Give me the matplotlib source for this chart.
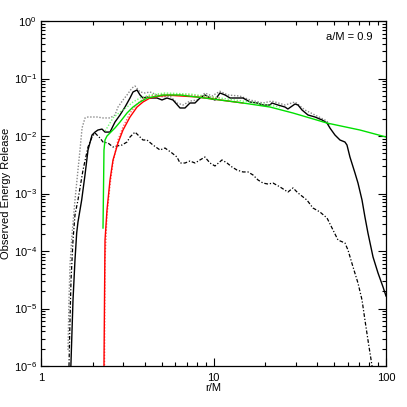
import matplotlib
matplotlib.use("Agg")
import matplotlib.pyplot as plt
from matplotlib.ticker import FixedLocator, FixedFormatter, LogLocator, NullFormatter

plt.rcParams['font.family'] = ['Liberation Sans', 'DejaVu Sans']
plt.rcParams['mathtext.fontset'] = 'custom'
plt.rcParams['mathtext.rm'] = 'Liberation Sans'

# ---- data ----
# simulation, solid black
sim_r = [1.49, 1.533, 1.574, 1.61, 1.638, 1.721, 1.799, 1.873, 1.976, 2.056, 2.138, 2.258, 2.35,
         2.512, 2.685, 2.871, 3.069, 3.281, 3.415, 3.603, 3.75, 3.90, 4.117, 4.285, 4.704, 5.028,
         5.375, 5.823, 6.394, 6.835, 7.305, 7.81, 8.35, 8.92, 9.54, 10.2, 10.9, 11.66, 12.47, 13.68,
         14.82, 16.28, 17.87, 19.36, 21.27, 21.8, 23.66, 25.97, 27.0, 29.69, 30.9, 32.6, 35.3, 38.76,
         42.6, 45.5, 47.3, 50.6, 54.1, 57.8, 59.4, 61.8, 66.1, 68.8, 72.6, 75.5, 78.6, 84.1, 89.9,
         96.1, 100.0]
sim_y = [1e-6, 1.41e-5, 6.97e-5, 2.05e-4, 3.19e-4, 7.7e-4, 2.10e-3, 5.71e-3, 1.04e-2, 1.17e-2,
         1.27e-2, 1.32e-2, 1.17e-2, 1.17e-2, 1.75e-2, 2.32e-2, 3.19e-2, 4.58e-2, 5.83e-2, 6.31e-2,
         5.17e-2, 4.58e-2, 4.77e-2, 4.58e-2, 4.58e-2, 4.23e-2, 4.58e-2, 4.23e-2, 3.07e-2, 3.07e-2,
         3.75e-2, 3.75e-2, 4.58e-2, 5.17e-2, 4.58e-2, 4.23e-2, 5.6e-2, 5.17e-2, 4.58e-2, 4.58e-2,
         4.58e-2, 3.9e-2, 3.75e-2, 3.46e-2, 3.46e-2, 3.75e-2, 3.46e-2, 3.19e-2, 2.95e-2, 3.6e-2,
         3.46e-2, 2.83e-2, 2.32e-2, 2.14e-2, 1.90e-2, 1.68e-2, 1.38e-2, 1.04e-2, 8.52e-3, 7.86e-3,
         6.97e-3, 4.31e-3, 2.27e-3, 1.52e-3, 7.7e-4, 3.9e-4, 2.05e-4, 7.87e-5, 4.14e-5, 2.37e-5,
         1.65e-5]

# gray dotted
dot_r = [1.434, 1.453, 1.473, 1.512, 1.574, 1.638, 1.683, 1.73, 1.799, 1.873, 2.112, 2.288, 2.512,
         2.685, 2.795, 2.988, 3.152, 3.37, 3.508, 3.75, 4.008, 4.285, 4.704, 5.094, 5.594, 6.14,
         6.66, 7.305, 8.02, 8.92, 9.8, 10.9, 12.1, 14.2, 16.28, 19.36, 21.8, 25.97, 29.69, 33.9,
         38.76, 45.5, 47.3]
dot_y = [1.9e-6, 1.41e-5, 5.71e-5, 1.9e-4, 7.7e-4, 2.56e-3, 5.71e-3, 1.38e-2, 2.06e-2, 2.14e-2,
         2.14e-2, 2.06e-2, 2.06e-2, 2.32e-2, 3.19e-2, 4.23e-2, 5.17e-2, 6.84e-2, 7.4e-2, 5.83e-2,
         5.6e-2, 5.83e-2, 5.17e-2, 4.77e-2, 4.96e-2, 3.75e-2, 3.46e-2, 4.05e-2, 4.23e-2, 5.6e-2,
         4.96e-2, 6.0e-2, 5.17e-2, 4.96e-2, 4.23e-2, 3.75e-2, 4.05e-2, 3.46e-2, 3.9e-2, 2.83e-2,
         2.32e-2, 1.82e-2, 1.45e-2]

# dash-dot black
dd_r = [1.453, 1.473, 1.493, 1.533, 1.574, 1.638, 1.752, 1.873, 1.976, 2.056, 2.112, 2.198, 2.288,
        2.446, 2.615, 2.758, 2.949, 3.152, 3.281, 3.508, 3.651, 3.90, 4.117, 4.458, 4.897, 5.233,
        5.746, 6.14, 6.394, 6.835, 7.305, 7.81, 8.35, 8.92, 9.54, 10.2, 11.2, 11.98, 12.8, 13.68,
        14.82, 15.85, 16.94, 18.11, 19.36, 20.7, 22.13, 24.3, 27.0, 28.9, 30.9, 34.8, 37.7, 41.4,
        45.5, 49.3, 52.7, 57.8, 60.2, 64.4, 68.8, 72.6, 75.5, 78.6, 83.0]
dd_y = [1e-6, 6.3e-6, 3.13e-5, 1.55e-4, 4.23e-4, 7.7e-4, 2.56e-3, 6.44e-3, 9.61e-3, 1.13e-2,
        1.04e-2, 9.23e-3, 7.86e-3, 7.55e-3, 6.44e-3, 6.70e-3, 6.97e-3, 7.86e-3, 9.61e-3, 1.17e-2,
        1.04e-2, 8.52e-3, 8.52e-3, 6.97e-3, 5.71e-3, 6.18e-3, 5.06e-3, 4.31e-3, 3.39e-3, 3.39e-3,
        3.67e-3, 3.39e-3, 3.83e-3, 4.31e-3, 3.39e-3, 3.01e-3, 3.83e-3, 3.39e-3, 2.89e-3, 2.56e-3,
        2.37e-3, 2.37e-3, 2.10e-3, 1.72e-3, 1.52e-3, 1.46e-3, 1.52e-3, 1.30e-3, 1.06e-3, 1.25e-3,
        1.02e-3, 7.7e-4, 5.6e-4, 4.77e-4, 3.75e-4, 2.32e-4, 1.55e-4, 1.38e-4, 1.04e-4, 5.27e-5,
        2.77e-5, 1.41e-5, 6.3e-6, 2.83e-6, 1e-6]

# red solid
red_r = [2.318, 2.318, 2.334, 2.35, 2.413, 2.512, 2.615, 2.795, 2.988, 3.281, 3.603, 3.90, 4.285,
         4.897, 5.6, 8.02, 10.9, 14.82]
red_y = [1e-8, 1e-6, 1.41e-5, 1.55e-4, 5.17e-4, 1.72e-3, 3.83e-3, 7.55e-3, 1.27e-2, 2.14e-2,
         3.19e-2, 3.9e-2, 4.58e-2, 4.96e-2, 5.1e-2, 4.77e-2, 4.23e-2, 3.75e-2]

# red dotted
redd_r = [2.334, 2.334, 2.35, 2.413, 2.512, 2.615, 2.795, 2.988, 3.281, 3.603, 3.90, 4.285, 5.233,
          7.305, 10.9]
redd_y = [1e-8, 1e-6, 6.97e-5, 4.23e-4, 1.40e-3, 3.5e-3, 8.52e-3, 1.43e-2, 2.51e-2, 3.6e-2,
          4.4e-2, 4.96e-2, 5.37e-2, 5.17e-2, 4.58e-2]

# green solid
grn_r = [2.288, 2.303, 2.318, 2.35, 2.413, 2.512, 2.685, 2.871, 3.152, 3.415, 3.75, 4.117, 5.094,
         6.394, 8.02, 10.9, 14.82, 21.27, 28.9, 45.5, 70.7, 100.0]
grn_y = [2.51e-4, 1.15e-3, 5.71e-3, 8.52e-3, 1e-2, 1.13e-2, 1.38e-2, 1.75e-2, 2.51e-2, 3.19e-2,
         3.9e-2, 4.58e-2, 5.17e-2, 5.17e-2, 4.77e-2, 4.23e-2, 3.75e-2, 3.19e-2, 2.51e-2, 1.68e-2,
         1.27e-2, 9.61e-3]

# green dotted
grnd_r = [2.35, 2.413, 2.615, 2.871, 3.152, 3.415, 3.75, 4.285, 5.233, 7.305, 10.9, 16.28, 24.3]
grnd_y = [1.22e-2, 1.38e-2, 2.06e-2, 2.61e-2, 3.19e-2, 3.9e-2, 4.58e-2, 5.17e-2, 5.6e-2, 5.37e-2,
          4.58e-2, 3.9e-2, 3.19e-2]

ytick_vals = [1e-6, 1e-5, 1e-4, 1e-3, 1e-2, 1e-1, 1e0]
ytick_text = [r'$\mathregular{10^{-6}}$', r'$\mathregular{10^{-5}}$', r'$\mathregular{10^{-4}}$',
              r'$\mathregular{10^{-3}}$', r'$\mathregular{10^{-2}}$', r'$\mathregular{10^{-1}}$',
              r'$\mathregular{10^{0}}$']
xtick_vals = [1, 10, 100]
xtick_text = ['1', '10', '100']


def main():
    fig = plt.figure(figsize=(4.07, 4.07), dpi=100)
    ax = fig.add_axes([41 / 407, 41 / 407, 345 / 407, 345 / 407])
    ax.set_xscale('log')
    ax.set_yscale('log')

    ax.plot(dot_r, dot_y, color='#888888', lw=1.0, ls=(0, (1, 1.2)))
    ax.plot(dd_r, dd_y, color='black', lw=0.9, ls=(0, (3, 1.5, 1, 1.5)))
    ax.plot(sim_r, sim_y, color='black', lw=1.0)
    ax.plot(redd_r, redd_y, color='#ff6060', lw=1.0, ls=(0, (1, 1.2)))
    ax.plot(red_r, red_y, color='#ff0000', lw=1.0)
    ax.plot(grnd_r, grnd_y, color='#70ff70', lw=1.0, ls=(0, (1, 1.2)))
    ax.plot(grn_r, grn_y, color='#00e000', lw=1.0)

    ax.set_xlim(1, 100)
    ax.set_ylim(1e-6, 1)

    ax.xaxis.set_major_locator(FixedLocator(xtick_vals))
    ax.xaxis.set_major_formatter(FixedFormatter(xtick_text))
    ax.yaxis.set_major_locator(FixedLocator(ytick_vals))
    ax.yaxis.set_major_formatter(FixedFormatter(ytick_text))
    ax.xaxis.set_minor_locator(LogLocator(base=10, subs=range(2, 10)))
    ax.yaxis.set_minor_locator(LogLocator(base=10, subs=range(2, 10)))
    ax.xaxis.set_minor_formatter(NullFormatter())
    ax.yaxis.set_minor_formatter(NullFormatter())

    ax.tick_params(which='both', direction='in', top=True, right=True, width=0.8, colors='black',
                   labelsize=8)
    ax.tick_params(which='major', length=5.5)
    ax.tick_params(which='minor', length=2.8)
    ax.tick_params(axis='x', pad=5)
    ax.tick_params(axis='y', pad=3)
    for s in ax.spines.values():
        s.set_linewidth(0.9)

    ax.set_xlabel('r/M', fontsize=8, labelpad=0)
    ax.set_ylabel('Observed Energy Release', fontsize=8, labelpad=2)
    ax.text(0.96, 0.955, 'a/M = 0.9', transform=ax.transAxes, ha='right', va='center', fontsize=8)

    fig.savefig('out.png', dpi=100)


if __name__ == '__main__':
    main()
